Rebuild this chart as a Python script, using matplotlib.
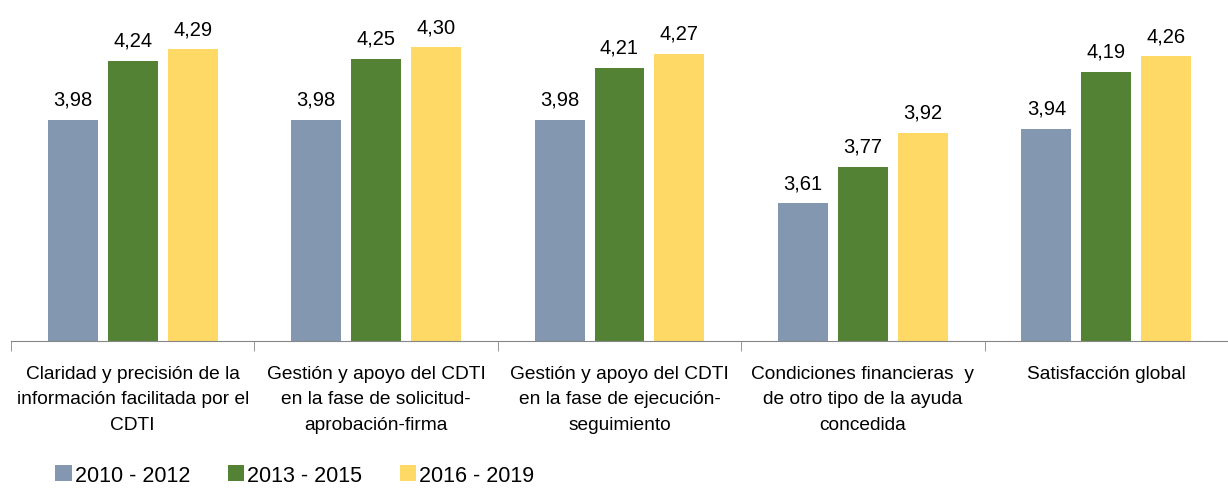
import matplotlib.pyplot as plt
import numpy as np

plt.rcParams['font.family'] = ['Liberation Sans', 'DejaVu Sans']

categories = ['Claridad y precisión de la\ninformación facilitada por el\nCDTI',
              'Gestión y apoyo del CDTI\nen la fase de solicitud-\naprobación-firma',
              'Gestión y apoyo del CDTI\nen la fase de ejecución-\nseguimiento',
              'Condiciones financieras  y\nde otro tipo de la ayuda\nconcedida',
              'Satisfacción global']
series = ['2010 - 2012', '2013 - 2015', '2016 - 2019']
v2010 = [3.98, 3.98, 3.98, 3.61, 3.94]
v2013 = [4.24, 4.25, 4.21, 3.77, 4.19]
v2016 = [4.29, 4.30, 4.27, 3.92, 4.26]
colors = ['#8497b0', '#548235', '#ffd966']

fig = plt.figure(figsize=(12.28, 4.89), dpi=100)
ax = fig.add_axes([11/1228, 1-342/489, 1-11/1228, 339/489])

x = np.arange(len(categories))
w = 0.205
step = 0.246
for i, (vals, c, lab) in enumerate(zip([v2010, v2013, v2016], colors, series)):
    bars = ax.bar(x + (i-1)*step, [v-3.0 for v in vals], w, bottom=3.0, color=c,
                  label=lab, zorder=2)
    for b, v in zip(bars, vals):
        ax.annotate(f'{v:.2f}'.replace('.', ','), (b.get_x()+b.get_width()/2, v),
                    xytext=(0, 8), textcoords='offset points', ha='center', va='bottom',
                    fontsize=14.5)

ax.set_ylim(3.0, 4.5)
ax.set_xlim(-0.5, len(categories)-0.5)
ax.set_yticks([])
for s in ['top', 'right', 'left']:
    ax.spines[s].set_visible(False)
ax.spines['bottom'].set_color('#868686')
ax.set_xticks(x)
ax.set_xticklabels(categories, fontsize=13.8, linespacing=1.68)
ax.tick_params(axis='x', length=0, pad=17)
ax.set_xticks(np.arange(len(categories)+1)-0.5, minor=True)
ax.tick_params(axis='x', which='minor', length=7, color='#868686')

fig.legend(loc='lower left', bbox_to_anchor=(36/1228, -0.035), ncol=3, frameon=False,
           fontsize=15.5, handlelength=0.75, handleheight=0.75, handletextpad=0.15,
           columnspacing=1.75)

fig.savefig('out.png', dpi=100)
